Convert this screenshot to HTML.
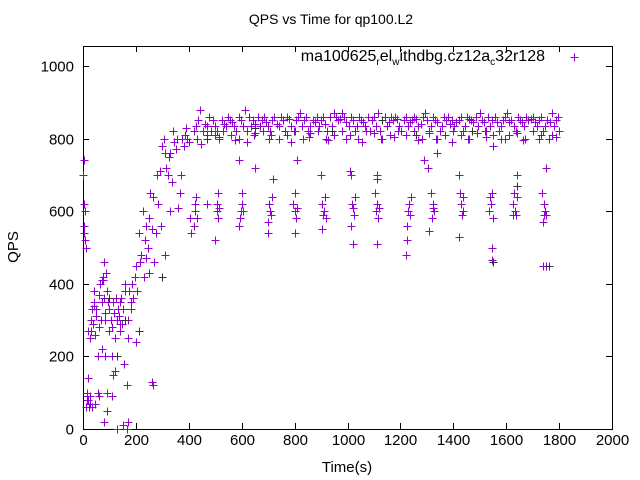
<!DOCTYPE html>
<html><head><meta charset="utf-8"><style>body{margin:0;background:#fff}svg{display:block;font-family:"Liberation Sans",sans-serif}</style></head>
<body>
<svg id="chart" width="640" height="480" viewBox="0 0 640 480">
<rect x="0" y="0" width="640" height="480" fill="#fff"/>
<text x="331" y="24" font-size="14" text-anchor="middle">QPS vs Time for qp100.L2</text>
<text x="18" y="247" font-size="15" text-anchor="middle" transform="rotate(-90 18 247)">QPS</text>
<text x="347" y="472" font-size="15" text-anchor="middle">Time(s)</text>
<g id="axes"></g>
<g id="marks"></g>
<g>
<text x="545" y="61" font-size="16" text-anchor="end">ma100625<tspan font-size="10" dy="4">r</tspan><tspan dy="-4">el</tspan><tspan font-size="10" dy="4">w</tspan><tspan dy="-4">ithdbg.cz12a</tspan><tspan font-size="10" dy="4">c</tspan><tspan dy="-4">32r128</tspan></text>
<path d="M570.5 57.5h8M574.5 53.5v8" stroke="#9400d3" stroke-width="1"/>
</g>
</svg>
<script>
const xTicks=[0,200,400,600,800,1000,1200,1400,1600,1800,2000];
const yTicks=[0,200,400,600,800,1000];
const rampT=[0,2,3,4,5,6,8,10,12,14,15,18,20,22,25,28,30,32,35,38,40,42,45,48,50,55,58,60,62,65,68,70,72,75,78,80,82,85,88,90,92,95,98,100,105,108,110,112,115,118,120,125,128,130,132,135,138,140,145,148,150,155,158,160,165,170,172,175,180,185,190,195,200,205,210,215,220,225,230,235,240,245,250,255,260,265,270,275,280,285,290,295,300,305,310,315,320,325,330,335,340,345,350,355,360,365,370,375,380,385,390,395,400,15,25,35,45,60,80,90,110,130,150,165,200,260,265,55,70,85,120,170,20,40,75,140,180,240,250,310,330];
const rampQ=[700,560,540,740,620,520,600,500,60,90,100,140,80,60,90,250,300,270,330,290,350,380,260,310,330,100,200,280,370,400,300,350,410,420,460,360,320,300,430,380,50,350,270,330,300,280,200,350,150,320,250,360,300,0,330,310,270,350,360,290,330,180,380,400,120,250,300,380,330,400,360,420,450,380,540,460,480,600,420,520,560,500,580,650,550,640,460,540,700,620,710,560,780,800,760,720,700,750,600,680,820,790,770,800,610,650,700,800,780,810,830,800,790,80,70,60,70,90,20,100,90,0,10,0,240,130,120,200,220,200,160,20,270,340,410,290,350,470,430,480,760];
const plateauT=[420,428,436,444,452,460,468,476,484,492,500,508,516,524,532,540,548,556,564,572,580,588,596,604,612,620,628,636,644,652,660,668,676,684,692,700,708,716,724,732,740,748,756,764,772,780,788,796,804,812,820,828,836,844,852,860,868,876,884,892,900,908,916,924,932,940,948,956,964,972,980,988,996,1004,1012,1020,1028,1036,1044,1052,1060,1068,1076,1084,1092,1100,1108,1116,1124,1132,1140,1148,1156,1164,1172,1180,1188,1196,1204,1212,1220,1228,1236,1244,1252,1260,1268,1276,1284,1292,1300,1308,1316,1324,1332,1340,1348,1356,1364,1372,1380,1388,1396,1404,1412,1420,1428,1436,1444,1452,1460,1468,1476,1484,1492,1500,1508,1516,1524,1532,1540,1548,1556,1564,1572,1580,1588,1596,1604,1612,1620,1628,1636,1644,1652,1660,1668,1676,1684,1692,1700,1708,1716,1724,1732,1740,1748,1756,1764,1772,1780,1788,1796,1800];
const plateauQ=[820,835,850,880,820,840,835,860,820,850,835,820,805,850,840,835,860,850,845,835,820,860,850,835,880,820,860,835,850,840,860,835,850,860,845,835,820,850,860,840,835,860,850,820,860,855,835,820,850,860,870,835,850,860,820,835,850,845,860,835,850,860,840,820,860,835,870,860,850,855,870,860,845,835,860,850,820,835,860,850,845,835,860,820,850,860,835,870,820,850,860,835,845,860,850,860,855,835,820,850,860,835,845,850,860,855,835,840,860,870,850,820,835,860,850,845,820,835,860,850,860,840,850,835,845,850,860,820,835,860,855,850,845,860,835,870,850,845,820,860,835,850,860,845,820,835,850,860,870,845,850,835,820,860,850,845,835,860,850,855,860,845,835,850,860,820,835,850,845,870,835,850,860,820,870];
const bandT=[430,470,500,530,560,590,620,650,680,710,740,770,800,830,860,890,920,950,980,1010,1040,1070,1100,1130,1160,1190,1220,1250,1280,1310,1340,1370,1400,1430,1460,1490,1520,1550,1580,1610,1640,1670,1700,1730,1760,1790,445,515,575,645,705,785,855,925,995,1055,1125,1175,1265,1335,1395,1455,1525,1595,1665,1725,1775];
const bandQ=[800,810,810,820,810,800,790,815,820,810,800,810,820,800,815,820,800,810,820,810,800,820,815,800,810,820,810,820,800,815,800,810,820,810,800,815,820,810,800,810,815,800,820,810,800,805,785,800,795,810,800,790,805,795,800,790,800,805,795,800,790,800,805,800,795,800,810];
const stripeT=[420,422,425,428,430,505,508,510,512,515,595,598,600,603,605,700,705,708,712,715,795,800,802,805,808,905,908,912,915,918,1015,1018,1022,1025,1028,1105,1108,1112,1115,1118,1225,1228,1232,1236,1240,1315,1318,1322,1325,1328,1425,1428,1432,1435,1438,1535,1540,1543,1546,1550,1625,1630,1633,1636,1640,1735,1740,1744,1748,1752,410,500,590,700,800,905,1020,1110,1220,1310,1420,1545,1625,1742,1015,1110,1225,1545,1740,1750,1235,1305,1420,590,650,720,810,900,1010,1110,1290,1340,1550,1640,1750,405,470];
const stripeQ=[560,600,620,640,580,620,600,650,580,610,580,600,650,620,600,570,620,600,590,640,620,600,650,580,610,620,590,600,640,580,560,620,610,590,640,650,600,620,580,610,560,600,620,590,640,650,580,610,620,600,650,620,590,600,640,600,640,620,650,580,620,650,600,590,640,650,570,620,600,590,540,520,560,540,540,550,510,510,480,545,530,465,590,590,700,700,520,500,450,450,590,720,700,740,720,690,740,700,710,690,740,760,780,700,720,580,620];
const darkT=[100,130,160,210,300,470,650,940,1130,1260,1470,1550,1640,1760];
const darkQ=[360,200,300,270,420,800,830,820,850,810,820,460,670,450];

const L=83,R=612,B=429,Y1000=66,TOP=46;
function xs(v){return L+(v-0)*(R-L)/2000;}
function ys(v){return B-(v-0)*(B-Y1000)/1000;}
const NS="http://www.w3.org/2000/svg";
const axes=document.getElementById('axes'),marks=document.getElementById('marks');
function mk(tag,attrs,parent){const e=document.createElementNS(NS,tag);for(const k in attrs)e.setAttribute(k,attrs[k]);parent.appendChild(e);return e;}
const frame=mk('rect',{x:L+.5,y:TOP+.5,width:R-L,height:B-TOP,fill:'none',stroke:'#000'},axes);


xTicks.forEach(v=>{const x=Math.round(xs(v))+.5;
 const p=mk('path',{d:`M${x} ${B}v-6M${x} ${TOP}v6`,stroke:'#000'},axes);
 
 
 const t=mk('text',{x:x,y:B+16,'font-size':15,'text-anchor':'middle'},axes);t.textContent=v;
 
 });
yTicks.forEach(v=>{const y=Math.round(ys(v))+.5;
 const p=mk('path',{d:`M${L} ${y}h6M${R} ${y}h-6`,stroke:'#000'},axes);
 
 
 const t=mk('text',{x:L-9,y:y+5,'font-size':15,'text-anchor':'end'},axes);t.textContent=v;
 
 });
function plot(ts,qs,col){for(let i=0;i<ts.length;i++){const x=Math.round(xs(ts[i]))+.5,y=Math.round(ys(qs[i]))+.5;
 const p=mk('path',{d:`M${x-4} ${y}h8M${x} ${y-4}v8`,stroke:col,'stroke-width':1},marks);
 
 }}
plot(rampT,rampQ,'#9400d3');plot(plateauT,plateauQ,'#9400d3');plot(bandT,bandQ,'#9400d3');plot(stripeT,stripeQ,'#9400d3');plot(darkT,darkQ,'#333');
</script>
</body></html>
